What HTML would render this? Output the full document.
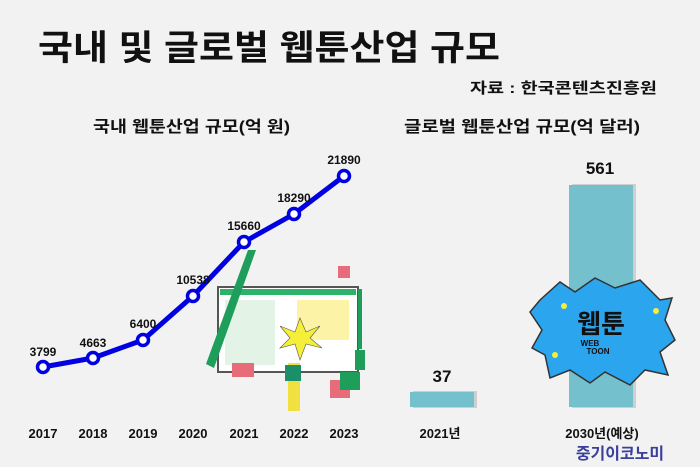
<!DOCTYPE html>
<html><head><meta charset="utf-8"><style>
html,body{margin:0;padding:0;background:#f2f2f2}
svg{display:block}
text{font-family:"Liberation Sans","Noto Sans CJK KR",sans-serif;font-weight:bold}
</style></head><body>
<svg width="700" height="467" viewBox="0 0 700 467" xmlns="http://www.w3.org/2000/svg">
<rect width="700" height="467" fill="#f2f2f2"/>
<text x="38" y="60" font-size="35" fill="#111" textLength="462" lengthAdjust="spacingAndGlyphs">국내 및 글로벌 웹툰산업 규모</text>
<text x="470" y="93" font-size="15" fill="#111" textLength="187" lengthAdjust="spacingAndGlyphs">자료 : 한국콘텐츠진흥원</text>
<text x="93" y="132" font-size="16" fill="#111" textLength="197" lengthAdjust="spacingAndGlyphs">국내 웹툰산업 규모(억 원)</text>
<text x="404" y="132" font-size="16" fill="#111" textLength="236" lengthAdjust="spacingAndGlyphs">글로벌 웹툰산업 규모(억 달러)</text>

<!-- illustration -->
<g>
<rect x="218" y="287" width="140" height="85" fill="#fff" stroke="#555" stroke-width="2"/>
<rect x="220" y="289" width="136" height="6" fill="#2bb36a"/>
<rect x="225" y="300" width="50" height="65" fill="#e3f3e6"/>
<rect x="297" y="300" width="52" height="40" fill="#fdf3a6"/>
<polygon points="300,318 306,332 320,326 310,338 322,348 306,344 300,360 295,344 280,348 290,338 280,326 295,332" fill="#f5ef3a" stroke="#555" stroke-width="0.6"/>
<polygon points="248,250 256,250 214,368 206,364" fill="#1e9e5a"/>
<rect x="358" y="289" width="4" height="60" fill="#1e9e5a"/>
<rect x="355" y="350" width="10" height="20" fill="#1e9e5a"/>
<rect x="288" y="363" width="12" height="48" fill="#f0e040"/>
<rect x="285" y="365" width="16" height="16" fill="#1a8f6a"/>
<rect x="232" y="363" width="22" height="14" fill="#e86b7a"/>
<rect x="330" y="380" width="20" height="18" fill="#e86b7a"/>
<rect x="340" y="372" width="20" height="18" fill="#1e9e5a"/>
<rect x="338" y="266" width="12" height="12" fill="#e86b7a"/>
</g>

<!-- line -->
<polyline points="43,367 93,358 143,340 193,296 244,242 294,214 344,176" fill="none" stroke="#0000e0" stroke-width="5" stroke-linejoin="round"/>
<g fill="#fff" stroke="#0000e0" stroke-width="3.5">
<circle cx="43" cy="367" r="5.5"/><circle cx="93" cy="358" r="5.5"/><circle cx="143" cy="340" r="5.5"/>
<circle cx="193" cy="296" r="5.5"/><circle cx="244" cy="242" r="5.5"/><circle cx="294" cy="214" r="5.5"/><circle cx="344" cy="176" r="5.5"/>
</g>
<g font-size="12" fill="#111" text-anchor="middle">
<text x="43" y="356">3799</text><text x="93" y="347">4663</text><text x="143" y="328">6400</text>
<text x="193" y="284">10538</text><text x="244" y="230">15660</text><text x="294" y="202">18290</text><text x="344" y="164">21890</text>
</g>
<g font-size="13" fill="#111" text-anchor="middle">
<text x="43" y="438">2017</text><text x="93" y="438">2018</text><text x="143" y="438">2019</text><text x="193" y="438">2020</text>
<text x="244" y="438">2021</text><text x="294" y="438">2022</text><text x="344" y="438">2023</text>
</g>

<!-- bars -->
<rect x="413" y="391" width="64" height="17" fill="#cfcfcf"/>
<rect x="410" y="392" width="64" height="15" fill="#74c0cc"/>
<rect x="572" y="184" width="64" height="224" fill="#cfcfcf"/>
<rect x="569" y="185" width="64" height="222" fill="#74c0cc"/>
<text x="442" y="382" font-size="17" fill="#111" text-anchor="middle">37</text>
<text x="600" y="174" font-size="17" fill="#111" text-anchor="middle">561</text>

<!-- burst -->
<polygon points="540,300 560,282 575,292 595,278 615,288 640,280 660,300 672,298 665,320 675,340 660,352 668,375 645,370 630,385 605,372 590,383 570,370 550,378 545,355 532,348 542,330 530,312" fill="#2aa5ee" stroke="#333" stroke-width="1.5"/>
<text x="601" y="333" font-size="26" fill="#111" text-anchor="middle">웹툰</text>
<text x="590" y="346" font-size="8" fill="#111" text-anchor="middle">WEB</text>
<text x="598" y="354" font-size="8" fill="#111" text-anchor="middle">TOON</text>
<g fill="#f5ef3a"><circle cx="564" cy="306" r="3"/><circle cx="656" cy="311" r="3"/><circle cx="555" cy="355" r="3"/></g>

<text x="440" y="438" font-size="13" fill="#111" text-anchor="middle">2021년</text>
<text x="602" y="438" font-size="13" fill="#111" text-anchor="middle">2030년(예상)</text>
<text x="620" y="459" font-size="16" fill="#3a3f9a" text-anchor="middle">중기이코노미</text>
</svg>
</body></html>
